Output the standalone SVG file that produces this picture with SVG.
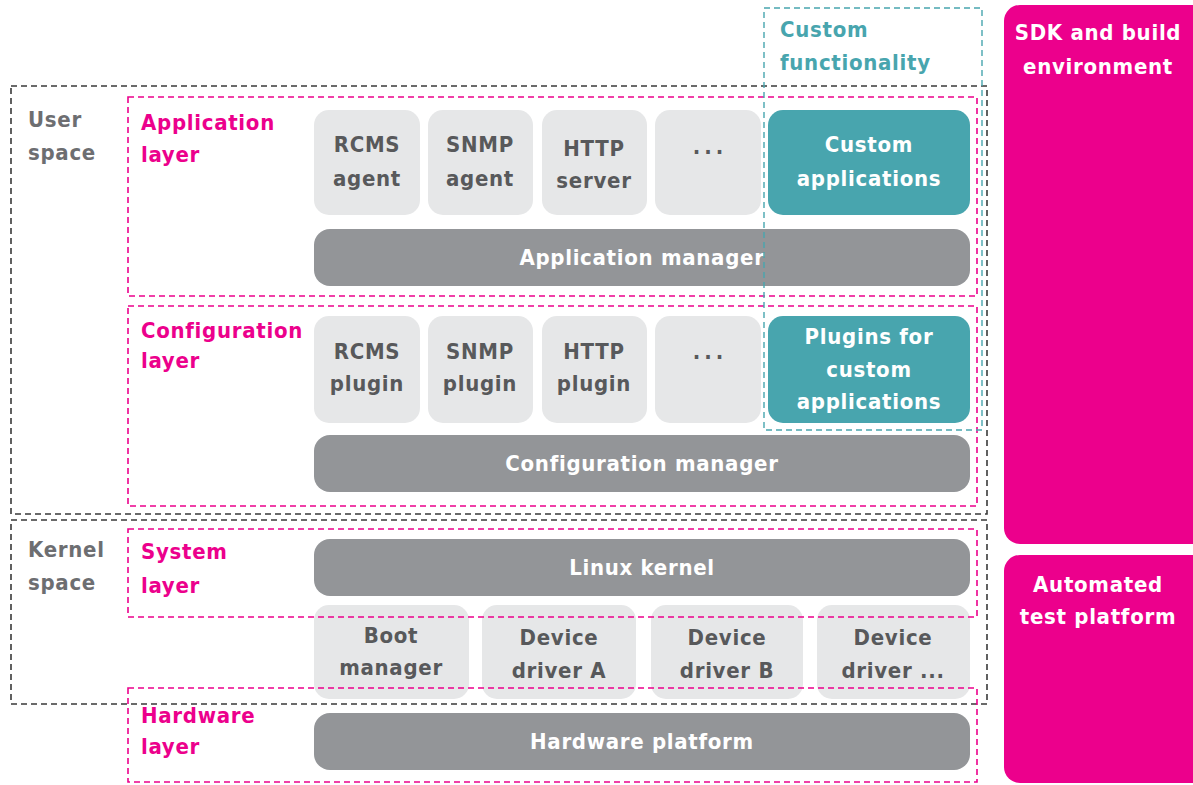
<svg xmlns="http://www.w3.org/2000/svg" width="1193" height="785" viewBox="0 0 1193 785">
<style>
text{font-family:"DejaVu Sans Condensed","DejaVu Sans",sans-serif;font-weight:bold;font-size:22px;letter-spacing:0.7px}
.lt{fill:#E6E7E8}
.dk{fill:#939598}
.tl{fill:#48A5AE}
.pk{fill:#EC008C}
.c{text-anchor:middle}
.tg{fill:#58595B}
.tw{fill:#FFFFFF}
.tp{fill:#EC008C}
.tt{fill:#48A5AE}
.ts{fill:#6D6E71}
.dots{letter-spacing:4px}
.bd{fill:none;stroke:#3A3A3A;stroke-width:1.6;stroke-dasharray:6 4}
.pd{fill:none;stroke:#EC008C;stroke-width:1.6;stroke-dasharray:6 4}
.td{fill:none;stroke:#48A5AE;stroke-width:1.4;stroke-dasharray:6 4}
</style>
<rect width="1193" height="785" fill="#FFFFFF"/>

<g id="sdk">
<rect class="pk" x="1004" y="5" width="203" height="539" rx="16"/>
<text class="tw c" x="1098" y="40">SDK and build</text>
<text class="tw c" x="1098" y="74">environment</text>
</g>
<g id="test">
<rect class="pk" x="1004" y="555" width="203" height="228" rx="16"/>
<text class="tw c" x="1098" y="592">Automated</text>
<text class="tw c" x="1098" y="624">test platform</text>
</g>

<g id="app-row">
<g id="rcms-agent"><rect class="lt" x="314" y="110" width="106" height="105" rx="15"/>
<text class="tg c" x="367" y="152">RCMS</text><text class="tg c" x="367" y="186">agent</text></g>
<g id="snmp-agent"><rect class="lt" x="428" y="110" width="105" height="105" rx="15"/>
<text class="tg c" x="480" y="152">SNMP</text><text class="tg c" x="480" y="186">agent</text></g>
<g id="http-server"><rect class="lt" x="542" y="110" width="105" height="105" rx="15"/>
<text class="tg c" x="594" y="156">HTTP</text><text class="tg c" x="594" y="188">server</text></g>
<g id="app-more"><rect class="lt" x="655" y="110" width="106" height="105" rx="15"/>
<text class="tg c dots" x="710" y="154">...</text></g>
<g id="custom-apps"><rect class="tl" x="768" y="110" width="202" height="105" rx="15"/>
<text class="tw c" x="869" y="152">Custom</text><text class="tw c" x="869" y="186">applications</text></g>
<g id="app-manager"><rect class="dk" x="314" y="229" width="656" height="57" rx="16"/>
<text class="tw c" x="642" y="265">Application manager</text></g>
</g>

<g id="config-row">
<g id="rcms-plugin"><rect class="lt" x="314" y="316" width="106" height="107" rx="15"/>
<text class="tg c" x="367" y="359">RCMS</text><text class="tg c" x="367" y="391">plugin</text></g>
<g id="snmp-plugin"><rect class="lt" x="428" y="316" width="105" height="107" rx="15"/>
<text class="tg c" x="480" y="359">SNMP</text><text class="tg c" x="480" y="391">plugin</text></g>
<g id="http-plugin"><rect class="lt" x="542" y="316" width="105" height="107" rx="15"/>
<text class="tg c" x="594" y="359">HTTP</text><text class="tg c" x="594" y="391">plugin</text></g>
<g id="plugin-more"><rect class="lt" x="655" y="316" width="106" height="107" rx="15"/>
<text class="tg c dots" x="710" y="359">...</text></g>
<g id="custom-plugins"><rect class="tl" x="768" y="316" width="202" height="107" rx="15"/>
<text class="tw c" x="869" y="344">Plugins for</text><text class="tw c" x="869" y="377">custom</text><text class="tw c" x="869" y="409">applications</text></g>
<g id="config-manager"><rect class="dk" x="314" y="435" width="656" height="57" rx="16"/>
<text class="tw c" x="642" y="471">Configuration manager</text></g>
</g>

<g id="kernel-row">
<g id="linux-kernel"><rect class="dk" x="314" y="539" width="656" height="57" rx="16"/>
<text class="tw c" x="642" y="575">Linux kernel</text></g>
<g id="boot-manager"><rect class="lt" x="314" y="605" width="155" height="94" rx="15"/>
<text class="tg c" x="391" y="643">Boot</text><text class="tg c" x="391" y="675">manager</text></g>
<g id="driver-a"><rect class="lt" x="482" y="605" width="154" height="94" rx="15"/>
<text class="tg c" x="559" y="645">Device</text><text class="tg c" x="559" y="678">driver A</text></g>
<g id="driver-b"><rect class="lt" x="651" y="605" width="152" height="94" rx="15"/>
<text class="tg c" x="727" y="645">Device</text><text class="tg c" x="727" y="678">driver B</text></g>
<g id="driver-more"><rect class="lt" x="817" y="605" width="153" height="94" rx="15"/>
<text class="tg c" x="893" y="645">Device</text><text class="tg c" x="893" y="678">driver ...</text></g>
</g>

<g id="hw-row">
<g id="hw-platform"><rect class="dk" x="314" y="713" width="656" height="57" rx="16"/>
<text class="tw c" x="642" y="749">Hardware platform</text></g>
</g>

<g id="frames">
<g id="user-space"><rect class="bd" x="11" y="86" width="976" height="428"/>
<text class="ts" x="28" y="127">User</text><text class="ts" x="28" y="160">space</text></g>
<g id="kernel-space"><rect class="bd" x="11" y="520" width="976" height="184"/>
<text class="ts" x="28" y="557">Kernel</text><text class="ts" x="28" y="590">space</text></g>
<g id="application-layer"><rect class="pd" x="128" y="97" width="849" height="199"/>
<text class="tp" x="141" y="130">Application</text><text class="tp" x="141" y="162">layer</text></g>
<g id="configuration-layer"><rect class="pd" x="128" y="306" width="849" height="200"/>
<text class="tp" x="141" y="338">Configuration</text><text class="tp" x="141" y="368">layer</text></g>
<g id="system-layer"><rect class="pd" x="128" y="529" width="849" height="88"/>
<text class="tp" x="141" y="559">System</text><text class="tp" x="141" y="593">layer</text></g>
<g id="hardware-layer"><rect class="pd" x="128" y="688" width="849" height="94"/>
<text class="tp" x="141" y="723">Hardware</text><text class="tp" x="141" y="754">layer</text></g>
<g id="custom-functionality"><rect class="td" x="764" y="8" width="218" height="422"/>
<text class="tt" x="780" y="37">Custom</text><text class="tt" x="780" y="70">functionality</text></g>
</g>
<g id="connectors"/>
</svg>
